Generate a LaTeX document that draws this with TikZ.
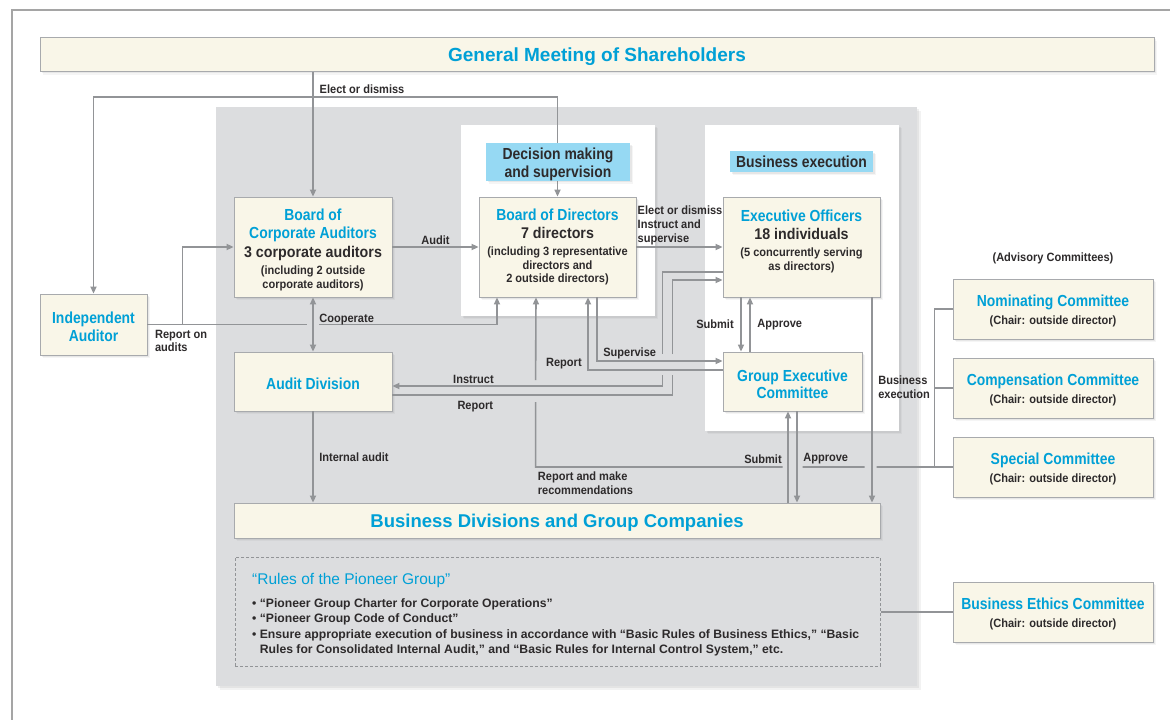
\documentclass[tikz,border=0pt]{standalone}
\usepackage{fontspec}
\setmainfont{Liberation Sans}[FakeStretch=0.92]
\newfontfamily\cndfont{Liberation Sans}[FakeStretch=0.87]
\newfontfamily\widefont{Liberation Sans}
\usetikzlibrary{arrows.meta,shadows}

\definecolor{boxcream}{RGB}{249,246,232}
\definecolor{boxedge}{RGB}{168,170,173}
\definecolor{wiregray}{RGB}{146,148,151}
\definecolor{capblue}{RGB}{0,160,214}
\definecolor{inkgray}{RGB}{45,42,43}
\definecolor{panelgray}{RGB}{220,221,223}
\definecolor{tagblue}{RGB}{150,217,243}
\definecolor{framegray}{RGB}{165,165,165}

% text sizes used inside the boxes
\newcommand{\ttl}[1]{{\cndfont\fontsize{16}{13}\selectfont\color{capblue}#1}}
\newcommand{\cnt}[1]{{\fontsize{15.5}{13}\selectfont\color{inkgray}#1}}
\newcommand{\nte}[1]{{\fontsize{12}{13}\selectfont\color{inkgray}#1}}
% empty first row, pushes a box text down a little
\newcommand{\padtop}[1]{\mbox{}\\[#1]}
\setlength{\lineskiplimit}{-20pt}

\begin{document}
\begin{tikzpicture}[x=1pt, y=-1pt, >={Triangle[length=7pt,width=6pt]},
  font=\bfseries\fontsize{12}{13}\selectfont,
  soft/.style={drop shadow={shadow xshift=3pt, shadow yshift=-3pt, opacity=0.08},
    drop shadow={shadow xshift=1.5pt, shadow yshift=-1.5pt, opacity=0.12}},
  box/.style={draw=boxedge, line width=0.8pt, fill=boxcream, align=center, inner sep=0pt, soft},
  tag/.style={fill=tagblue, align=center, inner sep=0pt, text=inkgray, soft},
  cmt/.style={box, minimum width=200pt, minimum height=60pt},
  wire/.style={draw=wiregray, line width=1.6pt},
  lbl/.style={text=inkgray, inner sep=1.5pt, align=left}]
  \useasboundingbox (0,0) rectangle (1170,720);

  % frame and panels
  \draw[framegray, line width=1.2pt] (12,720) -- (12,10) -- (1170,10);
  \fill[panelgray, drop shadow={shadow xshift=4pt, shadow yshift=-4pt, opacity=0.1},
    drop shadow={shadow xshift=2pt, shadow yshift=-2pt, opacity=0.12}] (216,107) rectangle (917,686);
  \fill[white, soft] (461,125) rectangle (655,316);
  \fill[white, soft] (705,125) rectangle (899,431);

  \node[box, minimum width=1114pt, minimum height=34pt, text depth=-6pt] (gm) at (597,54.5)
    {\widefont\fontsize{19}{17}\selectfont\color{capblue}General Meeting of Shareholders};

  \node[box, minimum width=158pt, minimum height=100pt] (bca) at (313,247)
    {\padtop{5.2pt}\ttl{Board of}\\[5pt]\ttl{Corporate Auditors}\\[6pt]\cnt{3 corporate auditors}\\[4pt]
     \nte{(including 2 outside}\\[1pt]\nte{corporate auditors)}};
  \node[box, minimum width=157pt, minimum height=100pt] (bod) at (557.5,247)
    {\ttl{Board of Directors}\\[5pt]\cnt{7 directors}\\[4pt]\nte{(including 3 representative}\\[1pt]
     \nte{directors and}\\\nte{2 outside directors)}};
  \node[box, minimum width=157pt, minimum height=100pt] (eo) at (801.5,247)
    {\ttl{Executive Officers}\\[5pt]\cnt{18 individuals}\\[4pt]\nte{(5 concurrently serving}\\[1pt]
     \nte{as directors)}\\[0pt]\mbox{}};
  \node[box, minimum width=107pt, minimum height=61pt] (ia) at (93.5,324.5)
    {\padtop{2.7pt}\ttl{Independent}\\[5pt]\ttl{Auditor}};
  \node[box, minimum width=158pt, minimum height=59pt] (ad) at (313,381.5)
    {\padtop{2.7pt}\ttl{Audit Division}};
  \node[box, minimum width=139pt, minimum height=59pt] (gec) at (792.5,381.5)
    {\padtop{4.7pt}\ttl{Group Executive}\\[4pt]\ttl{Committee}};
  \node[box, minimum width=646pt, minimum height=35pt, text depth=-6pt] (bdg) at (557,520.5)
    {\widefont\fontsize{18.5}{16}\selectfont\color{capblue}Business Divisions and Group Companies};

  % advisory and ethics committees
  \node[lbl] (adv) at (1053,258) {(Advisory Committees)};
  \node[cmt] (nom) at (1053,309) {\padtop{1.5pt}\ttl{Nominating Committee}\\[5pt]\nte{(Chair: outside director)}};
  \node[cmt] (comp) at (1053,388) {\padtop{1.5pt}\ttl{Compensation Committee}\\[5pt]\nte{(Chair: outside director)}};
  \node[cmt] (spec) at (1053,467) {\padtop{1.5pt}\ttl{Special Committee}\\[5pt]\nte{(Chair: outside director)}};
  \node[cmt] (bec) at (1053,612) {\padtop{1.5pt}\ttl{Business Ethics Committee}\\[5pt]\nte{(Chair: outside director)}};

  % group rules
  \node[draw=wiregray, line width=1pt, dash pattern=on 3pt off 2pt,
    minimum width=645pt, minimum height=109pt] (rules) at (557.5,611.5) {};
  \node[anchor=north west, align=left, inner sep=0pt, text=inkgray] (rtxt) at (252,573)
    {{\widefont\mdseries\fontsize{15.5}{13}\selectfont\color{capblue}“Rules of the Pioneer Group”}\\[10pt]
     {\widefont\fontsize{12.2}{13}\selectfont • “Pioneer Group Charter for Corporate Operations”}\\[2pt]
     {\widefont\fontsize{12.2}{13}\selectfont • “Pioneer Group Code of Conduct”}\\[3pt]
     {\widefont\fontsize{12.2}{13}\selectfont • Ensure appropriate execution of business in accordance with “Basic Rules of Business Ethics,” “Basic}\\[2pt]
     {\widefont\fontsize{12.2}{13}\selectfont \phantom{• }Rules for Consolidated Internal Audit,” and “Basic Rules for Internal Control System,” etc.}};

  % connectors
  \coordinate (el) at (313,97);
  \draw[wire,->] (gm.south -| bca.north) -- (bca.north);
  \draw[wire,->] (el) -| (ia.north);
  \draw[wire,->] (el) -| (bod.north);
  \node[lbl, anchor=south west, xshift=5pt, yshift=2pt] (lElect) at (el) {Elect or dismiss};

  \draw[wire,->] (bca) -- node[lbl, above] (lAudit) {Audit} (bod);
  \draw[wire,->] (ia.east) -- ++(35,0) |- (bca.west);
  \draw[wire,->] (ia.east) -- ++(160,0) ++(12,0) -| ([xshift=-60.5]bod.south);
  \node[lbl, anchor=north west, xshift=6pt, yshift=-4pt] (lRoa) at (ia.east) {Report on\\audits};
  \draw[wire,<->] (bca) -- node[lbl, anchor=west, pos=0.4, xshift=4pt] (lCoop) {Cooperate} (ad);
  \draw[wire,->] (ad) -- node[lbl, anchor=west, xshift=4pt] (lInt) {Internal audit} (ad |- bdg.north);

  \draw[wire,->] (bod) -- node[lbl, anchor=south west, pos=0, xshift=-1pt] (lEds)
    {Elect or dismiss\\[1pt]Instruct and\\[1pt]supervise} (eo);
  \draw[wire,->] ([xshift=-60.5]eo.south) -- node[lbl, anchor=east, xshift=-5pt] (lSub1) {Submit}
    ([xshift=-60.5]eo.south |- gec.north);
  \draw[wire,->] ([xshift=-51.5]eo.south |- gec.north) -- node[lbl, anchor=west, xshift=5pt] (lApp1) {Approve}
    ([xshift=-51.5]eo.south);
  \draw[wire,->] ([xshift=70.5]eo.south) -- node[lbl, anchor=west, pos=0.437, xshift=4pt] (lBex)
    {Business\\[1pt]execution} ([xshift=70.5]eo.south |- bdg.north);
  \draw[wire,->] ([xshift=-4.5]gec.south |- bdg.north) -- node[lbl, anchor=east, pos=0.478, xshift=-4pt] (lSub2) {Submit}
    ([xshift=-4.5]gec.south);
  \draw[wire,->] ([xshift=4.5]gec.south) -- node[lbl, anchor=west, pos=0.52, xshift=4pt] (lApp2) {Approve}
    ([xshift=4.5]gec.south |- bdg.north);

  \draw[wire,->] ([xshift=39.5]bod.south) |- node[lbl, anchor=south west, pos=0.5, xshift=4pt] (lSup) {Supervise}
    ([yshift=20.5]gec.west);
  \draw[wire,->] ([yshift=11.5]gec.west) -| node[lbl, anchor=south east, pos=0.5, xshift=-4pt, yshift=-1pt] (lRep1) {Report}
    ([xshift=30.5]bod.south);
  \draw[wire,->] ([yshift=-25]eo.west) -- ++(-60,0) -- ++(0,82) ++(0,21)
    |- node[lbl, above, pos=0.85] (lIns) {Instruct} ([yshift=-4.5]ad.east);
  \draw[wire,->] ([yshift=-13.5]ad.east) -- node[lbl, below, pos=0.296, yshift=-4pt] (lRep2) {Report} ++(280,0)
    -- ++(0,-20) ++(0,-21) |- ([yshift=-33]eo.west);

  % advisory committees report to the board
  \draw[wire] (nom.west) -- ++(-18,0) |- (spec.west);
  \draw[wire] (comp.west) -- ++(-18,0);
  \draw[wire,->] (spec.west) -- ++(-76,0) ++(-12,0) -- ++(-62,0) ++(-20,0)
    -- node[lbl, anchor=north west, pos=1, yshift=-2pt] (lRec) {Report and make\\[1pt]recommendations} ++(-247,0)
    -- ++(0,-65) ++(0,-22) -- ([xshift=-21.5]bod.south);
  \draw[wire] (rules.east |- bec.west) -- (bec.west);

  % tags go on top of the election line
  \node[tag, minimum width=144pt, minimum height=36pt] (dms) at (558,162)
    {\padtop{2.7pt}\cndfont\fontsize{16}{13}\selectfont Decision making\\[5pt]\cndfont\fontsize{16}{13}\selectfont and supervision};
  \node[tag, minimum width=143pt, minimum height=21pt] (bex) at (801.5,161.5)
    {\cndfont\fontsize{16}{13}\selectfont Business execution};
\end{tikzpicture}
\end{document}
